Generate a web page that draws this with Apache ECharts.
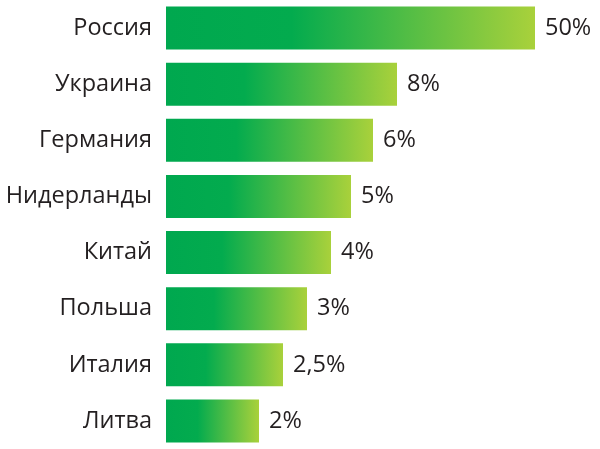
<!DOCTYPE html>
<html>
<head>
<meta charset="utf-8">
<script src="https://cdn.jsdelivr.net/npm/echarts@6/dist/echarts.min.js"></script>
<style>
  html, body { margin: 0; padding: 0; background: #fff; }
  #chart { width: 600px; height: 449px; }
</style>
</head>
<body>
<div id="chart"></div>
<script>
// страны
const countries = ['Россия', 'Украина', 'Германия', 'Нидерланды', 'Китай', 'Польша', 'Италия', 'Литва'];
// подписи долей
const shares = ['50%', '8%', '6%', '5%', '4%', '3%', '2,5%', '2%'];
// длина полос на картинке (схематично, не пропорционально долям)
const barLength = [369, 231, 207, 185, 165, 141, 117, 93];

window.onload = function () {
  let chart = echarts.init(document.getElementById('chart'));

  let barColor = new echarts.graphic.LinearGradient(0, 0, 1, 0, [
    { offset: 0, color: '#00a84f' },
    { offset: 0.34, color: '#03ab4e' },
    { offset: 1, color: '#a9d13b' }
  ]);

  let option = {
    animation: false,
    grid: { left: 166, right: 0, top: -1, height: 451 },
    xAxis: {
      type: 'value',
      min: 0,
      max: 434,
      show: false
    },
    yAxis: {
      type: 'category',
      inverse: true,
      data: countries,
      axisLine: { show: false },
      axisTick: { show: false },
      axisLabel: {
        margin: 14,
        fontFamily: 'Open Sans',
        fontSize: 23.5,
        color: '#231f20'
      }
    },
    series: [
      {
        type: 'bar',
        data: barLength,
        barWidth: 43,
        itemStyle: { color: barColor },
        label: {
          show: true,
          position: 'right',
          distance: 10,
          fontFamily: 'Open Sans',
          fontSize: 23.5,
          color: '#231f20',
          formatter: function (p) {
            return shares[p.dataIndex];
          }
        }
      }
    ]
  };

  chart.setOption(option);
};
</script>
</body>
</html>
